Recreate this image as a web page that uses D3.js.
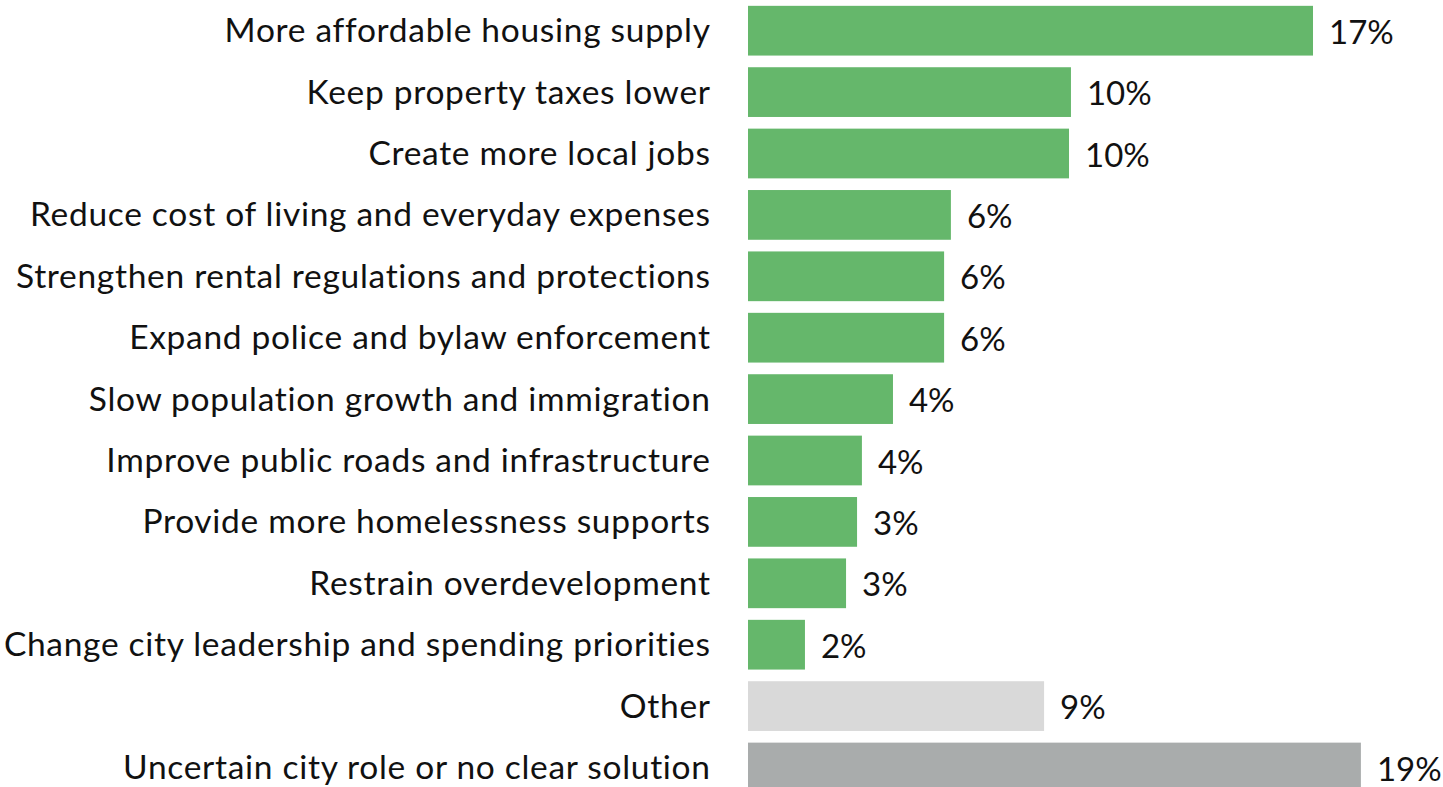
<!DOCTYPE html>
<html>
<head>
<meta charset="utf-8">
<script src="https://cdn.jsdelivr.net/npm/d3@7"></script>
<style>
html,body{margin:0;padding:0;background:#fff;}
svg{display:block;}
</style>
</head>
<body>
<svg id="chart" width="1443" height="787"></svg>
<script>
const categories = [
  "More affordable housing supply",
  "Keep property taxes lower",
  "Create more local jobs",
  "Reduce cost of living and everyday expenses",
  "Strengthen rental regulations and protections",
  "Expand police and bylaw enforcement",
  "Slow population growth and immigration",
  "Improve public roads and infrastructure",
  "Provide more homelessness supports",
  "Restrain overdevelopment",
  "Change city leadership and spending priorities",
  "Other",
  "Uncertain city role or no clear solution"
];
const values = [17.46, 9.98, 9.92, 6.27, 6.06, 6.06, 4.48, 3.52, 3.37, 3.03, 1.76, 9.15, 18.94];
const valueLabels = ["17%","10%","10%","6%","6%","6%","4%","4%","3%","3%","2%","9%","19%"];
const groups = ["main","main","main","main","main","main","main","main","main","main","main","other","uncertain"];

const colors = {main:"#65b76b", other:"#d9d9d9", uncertain:"#a9acac"};

const svg = d3.select("#chart");
const x = d3.scaleLinear().domain([0, 20]).range([748, 748 + 20*32.36]);
const y = d3.scaleBand().domain(categories).range([0, 13*61.4]).paddingInner(0.19).paddingOuter(0.095);

const data = categories.map((c,i)=>({c, v:values[i], l:valueLabels[i], g:groups[i]}));

const fontCat = "Lato, 'Open Sans', sans-serif";

svg.selectAll("rect.bar").data(data).join("rect")
  .attr("class","bar")
  .attr("x", x(0))
  .attr("y", d=>y(d.c))
  .attr("width", d=>x(d.v)-x(0))
  .attr("height", y.bandwidth())
  .attr("fill", d=>colors[d.g]);

svg.selectAll("text.cat").data(data).join("text")
  .attr("class","cat")
  .attr("x", 710.7)
  .attr("y", d=>y(d.c)+y.bandwidth()/2 + 11.5)
  .attr("text-anchor","end")
  .attr("font-family", fontCat)
  .attr("font-size", 33.5)
  .attr("letter-spacing", "0.7px")
  .attr("fill","#111")
  .text(d=>d.c);

svg.selectAll("text.val").data(data).join("text")
  .attr("class","val")
  .attr("x", d=>x(d.v)+16)
  .attr("y", d=>y(d.c)+y.bandwidth()/2 + 13)
  .attr("font-family", fontCat)
  .attr("font-size", 33)
  .attr("fill","#111")
  .text(d=>d.l);
</script>
</body>
</html>
